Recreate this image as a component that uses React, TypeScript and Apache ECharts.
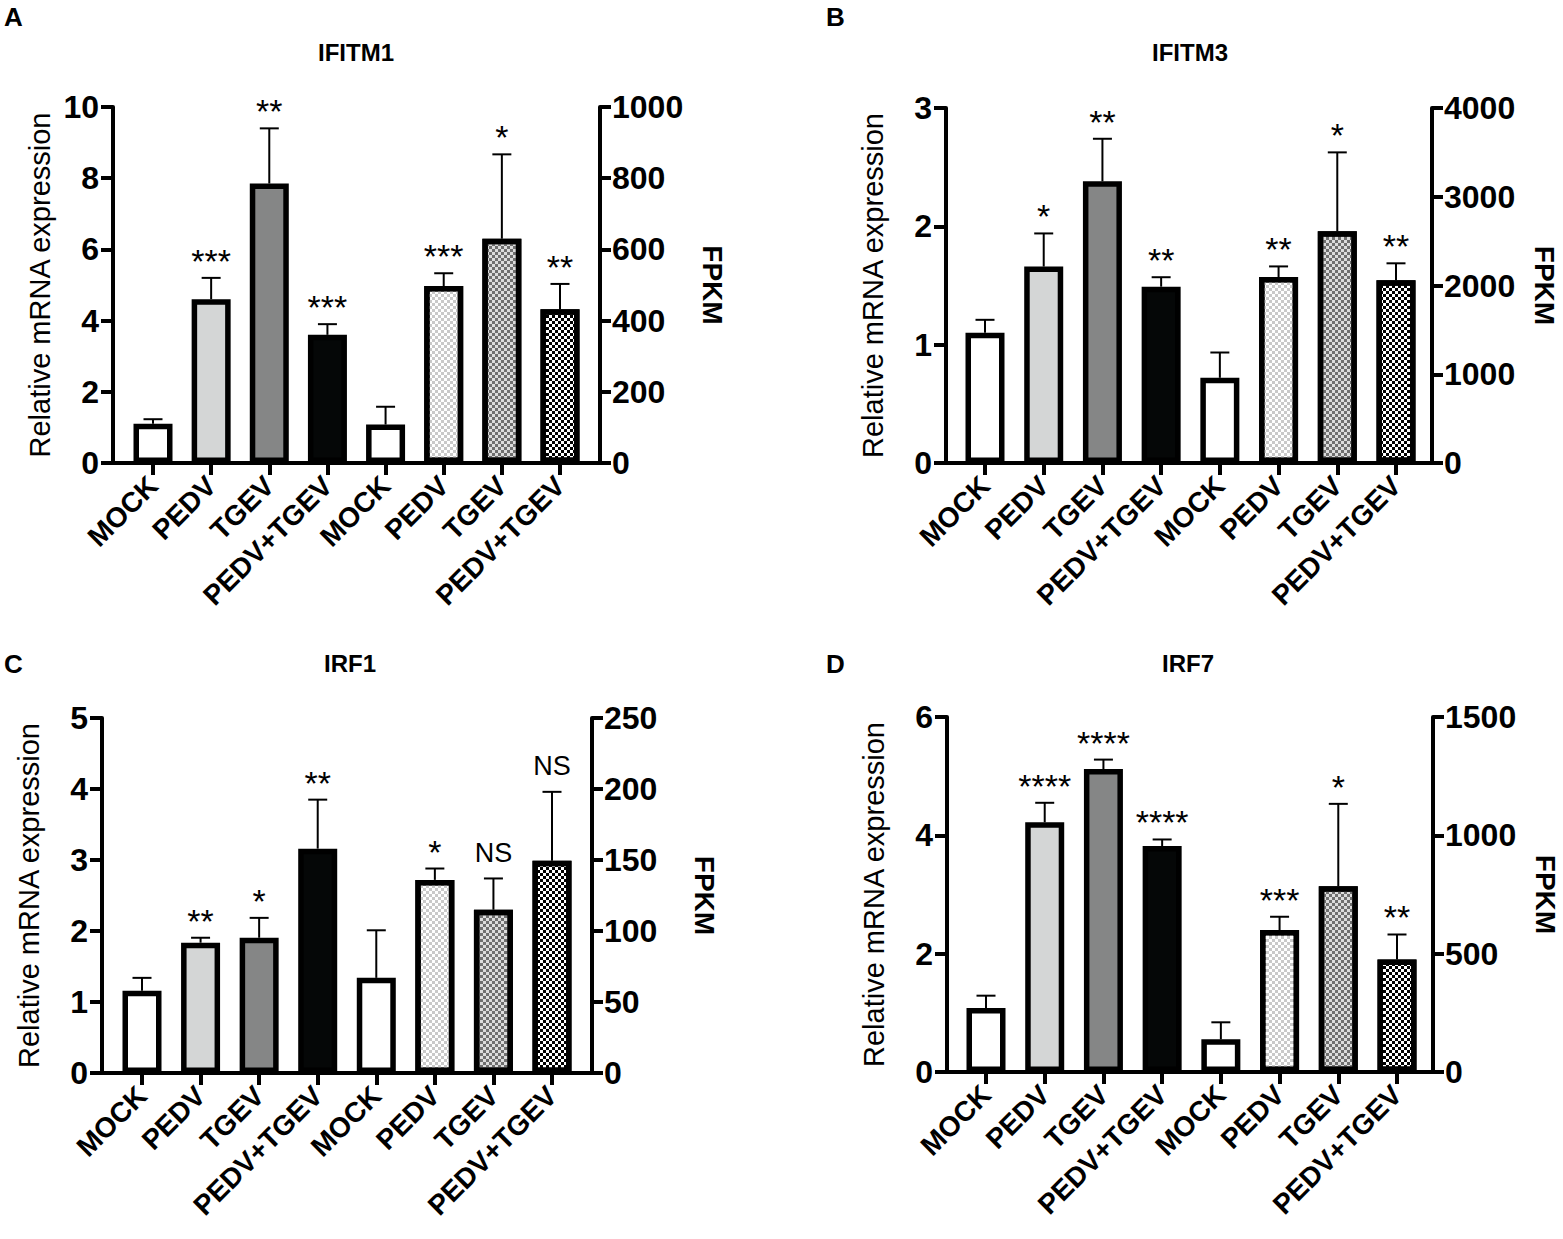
import React, { useEffect, useRef } from 'react';
import * as echarts from 'echarts';

// ---------------- data ----------------
const categories = ['MOCK', 'PEDV', 'TGEV', 'PEDV+TGEV', 'MOCK', 'PEDV', 'TGEV', 'PEDV+TGEV'];

// Panel A – IFITM1
const ifitm1Rel = [1.1, 4.6, 7.85, 3.6];
const ifitm1RelSd = [0.13, 0.6, 1.55, 0.3];
const ifitm1Fpkm = [108, 497, 630, 432];
const ifitm1FpkmSd = [50, 36, 237, 71];
const ifitm1Sig = ['', '***', '**', '***', '', '***', '*', '**'];
const ifitm1RelTicks = { max: 10, interval: 2 };
const ifitm1FpkmTicks = { max: 1000, interval: 200 };

// Panel B – IFITM3
const ifitm3Rel = [1.1, 1.66, 2.38, 1.49];
const ifitm3RelSd = [0.11, 0.28, 0.36, 0.08];
const ifitm3Fpkm = [960, 2095, 2610, 2060];
const ifitm3FpkmSd = [285, 120, 890, 190];
const ifitm3Sig = ['', '*', '**', '**', '', '**', '*', '**'];
const ifitm3RelTicks = { max: 3, interval: 1 };
const ifitm3FpkmTicks = { max: 4000, interval: 1000 };

// Panel C – IRF1
const irf1Rel = [1.16, 1.835, 1.905, 3.16];
const irf1RelSd = [0.18, 0.07, 0.28, 0.69];
const irf1Fpkm = [67, 136, 115, 149.5];
const irf1FpkmSd = [33.5, 8, 22, 48.5];
const irf1Sig = ['', '**', '*', '**', '', '*', 'NS', 'NS'];
const irf1RelTicks = { max: 5, interval: 1 };
const irf1FpkmTicks = { max: 250, interval: 50 };

// Panel D – IRF7
const irf7Rel = [1.08, 4.22, 5.12, 3.82];
const irf7RelSd = [0.21, 0.33, 0.16, 0.11];
const irf7Fpkm = [138, 600, 785, 475];
const irf7FpkmSd = [72, 56, 348, 106];
const irf7Sig = ['', '****', '****', '****', '', '***', '*', '**'];
const irf7RelTicks = { max: 6, interval: 2 };
const irf7FpkmTicks = { max: 1500, interval: 500 };

// ---------------- styles / layout ----------------
const FONT = '"Liberation Sans", Arial, Helvetica, sans-serif';
const solidFills = ['#ffffff', '#d4d6d6', '#858686', '#050707'];
const patternFills = [
  { base: '#ffffff', dot: '#c9c9c9' },
  { base: '#ffffff', dot: '#c9c9c9' },
  { base: '#dcdcdc', dot: '#6f6f6f' },
  { base: '#ffffff', dot: '#000000' },
];

const panels = [
  {
    letter: 'A', title: 'IFITM1',
    rel: ifitm1Rel, relSd: ifitm1RelSd, fpkm: ifitm1Fpkm, fpkmSd: ifitm1FpkmSd, sig: ifitm1Sig,
    relTicks: ifitm1RelTicks, fpkmTicks: ifitm1FpkmTicks,
    frame: { left: 113, right: 600, top: 107, bottom: 463 }, firstC: 153, lastC: 560,
    titleXY: [356, 52], letterXY: [4, 17],
  },
  {
    letter: 'B', title: 'IFITM3',
    rel: ifitm3Rel, relSd: ifitm3RelSd, fpkm: ifitm3Fpkm, fpkmSd: ifitm3FpkmSd, sig: ifitm3Sig,
    relTicks: ifitm3RelTicks, fpkmTicks: ifitm3FpkmTicks,
    frame: { left: 946, right: 1432, top: 108, bottom: 463 }, firstC: 985, lastC: 1396,
    titleXY: [1190, 52], letterXY: [826, 17],
  },
  {
    letter: 'C', title: 'IRF1',
    rel: irf1Rel, relSd: irf1RelSd, fpkm: irf1Fpkm, fpkmSd: irf1FpkmSd, sig: irf1Sig,
    relTicks: irf1RelTicks, fpkmTicks: irf1FpkmTicks,
    frame: { left: 102, right: 592, top: 718, bottom: 1073 }, firstC: 142, lastC: 552,
    titleXY: [350, 663], letterXY: [4, 664],
  },
  {
    letter: 'D', title: 'IRF7',
    rel: irf7Rel, relSd: irf7RelSd, fpkm: irf7Fpkm, fpkmSd: irf7FpkmSd, sig: irf7Sig,
    relTicks: irf7RelTicks, fpkmTicks: irf7FpkmTicks,
    frame: { left: 947, right: 1433, top: 717, bottom: 1072 }, firstC: 986, lastC: 1397,
    titleXY: [1188, 663], letterXY: [826, 664],
  },
];

function checker(dot: string) {
  return {
    symbol: 'rect',
    symbolSize: 1,
    dashArrayX: [[3, 3], [0, 3, 3, 0]],
    dashArrayY: [3, 0],
    rotation: 0,
    color: dot,
  };
}

const plainNumber = (v: number) => String(v);

function buildOption() {
  const grid: any[] = [];
  const xAxis: any[] = [];
  const yAxis: any[] = [];
  const series: any[] = [];
  const graphic: any[] = [];

  panels.forEach((p, i) => {
    const f = p.frame;
    const s = (p.lastC - p.firstC) / 7;
    const h = f.bottom - f.top;
    grid.push({ left: f.left, top: f.top, width: f.right - f.left, height: h, containLabel: false });
    grid.push({ left: p.firstC - s / 2, top: f.top, width: s * 8, height: h, containLabel: false });

    const gFrame = 2 * i;
    const gPlot = 2 * i + 1;

    xAxis.push({
      type: 'value', gridIndex: gFrame, min: 0, max: 1,
      axisLine: { show: true, onZero: false, lineStyle: { color: '#000', width: 4 } },
      axisTick: { show: false }, axisLabel: { show: false }, splitLine: { show: false },
    });
    xAxis.push({
      type: 'category', gridIndex: gPlot, data: categories,
      axisLine: { show: false },
      axisTick: { show: true, alignWithLabel: true, interval: 0, length: 12, lineStyle: { color: '#000', width: 4 } },
      axisLabel: {
        interval: 0, rotate: 45, margin: 18, color: '#000',
        fontSize: 28, fontWeight: 'bold', fontFamily: FONT,
      },
      splitLine: { show: false },
    });

    const yLeftBase = {
      type: 'value', min: 0, max: p.relTicks.max, interval: p.relTicks.interval,
    };
    const yRightBase = {
      type: 'value', min: 0, max: p.fpkmTicks.max, interval: p.fpkmTicks.interval,
    };
    // frame axes (visible)
    yAxis.push({
      ...yLeftBase, gridIndex: gFrame, position: 'left',
      axisLine: { show: true, lineStyle: { color: '#000', width: 4 } },
      axisTick: { show: true, length: 12, lineStyle: { color: '#000', width: 4 } },
      axisLabel: { margin: 14, color: '#000', fontSize: 32, fontWeight: 'bold', fontFamily: FONT, formatter: plainNumber },
      splitLine: { show: false },
      name: 'Relative mRNA expression', nameLocation: 'middle', nameGap: 59, nameRotate: 90,
      nameTextStyle: { color: '#000', fontSize: 29, fontWeight: 'normal', fontFamily: FONT },
    });
    yAxis.push({
      ...yRightBase, gridIndex: gFrame, position: 'right',
      axisLine: { show: true, lineStyle: { color: '#000', width: 4 } },
      axisTick: { show: true, length: 11, lineStyle: { color: '#000', width: 4 } },
      axisLabel: { margin: 12, color: '#000', fontSize: 32, fontWeight: 'bold', fontFamily: FONT, formatter: plainNumber },
      splitLine: { show: false },
      name: 'FPKM', nameLocation: 'middle', nameGap: 98, nameRotate: -90,
      nameTextStyle: { color: '#000', fontSize: 28, fontWeight: 'bold', fontFamily: FONT },
    });
    // plot axes (hidden, same scales)
    yAxis.push({ ...yLeftBase, gridIndex: gPlot, show: false, splitLine: { show: false } });
    yAxis.push({ ...yRightBase, gridIndex: gPlot, position: 'right', show: false, splitLine: { show: false } });

    const yRel = 4 * i + 2;
    const yFpkm = 4 * i + 3;

    const relData: any[] = categories.map((_, k) =>
      k < 4 ? { value: p.rel[k], itemStyle: { color: solidFills[k] } } : '-'
    );
    const fpkmData: any[] = categories.map((_, k) =>
      k >= 4
        ? {
            value: p.fpkm[k - 4],
            itemStyle: {
              color: patternFills[k - 4].base,
              decal: k === 4 ? undefined : checker(patternFills[k - 4].dot),
            },
          }
        : '-'
    );

    const barCommon = {
      type: 'bar', xAxisIndex: gPlot, barWidth: 39, barGap: '-100%',
      itemStyle: { borderColor: '#000', borderWidth: 5.5 },
      emphasis: { disabled: true }, silent: true,
    };
    series.push({ ...barCommon, name: p.title + ' relative', yAxisIndex: yRel, data: relData });
    series.push({ ...barCommon, name: p.title + ' FPKM', yAxisIndex: yFpkm, data: fpkmData });

    const makeErr = (means: number[], sds: number[], offset: number, yIdx: number) => ({
      type: 'custom', xAxisIndex: gPlot, yAxisIndex: yIdx, clip: false, silent: true, z: 5,
      data: means.map((m, k) => [k + offset, m, sds[k]]),
      encode: { x: 0, y: 1 },
      renderItem: (params: any, api: any) => {
        const cat = api.value(0);
        const m = api.value(1);
        const sd = api.value(2);
        const base = api.coord([cat, m]);
        const top = api.coord([cat, m + sd]);
        const label = p.sig[params.dataIndex + offset];
        const isText = label === 'NS';
        return {
          type: 'group',
          children: [
            { type: 'line', shape: { x1: base[0], y1: base[1], x2: top[0], y2: top[1] }, style: { stroke: '#000', lineWidth: 2 } },
            { type: 'line', shape: { x1: top[0] - 9.5, y1: top[1], x2: top[0] + 9.5, y2: top[1] }, style: { stroke: '#000', lineWidth: 2 } },
            {
              type: 'text', x: top[0], y: top[1] - (isText ? 12 : 0),
              style: {
                text: label, align: 'center', verticalAlign: 'bottom',
                fontSize: isText ? 27 : 34, fontFamily: FONT, fontWeight: 'normal', fill: '#000',
              },
            },
          ],
        };
      },
    });
    series.push(makeErr(p.rel, p.relSd, 0, yRel));
    series.push(makeErr(p.fpkm, p.fpkmSd, 4, yFpkm));

    graphic.push({
      type: 'text', x: p.titleXY[0], y: p.titleXY[1], silent: true,
      style: { text: p.title, align: 'center', verticalAlign: 'middle', fontSize: 24, fontWeight: 'bold', fontFamily: FONT, fill: '#000' },
    });
    graphic.push({
      type: 'text', x: p.letterXY[0], y: p.letterXY[1], silent: true,
      style: { text: p.letter, align: 'left', verticalAlign: 'middle', fontSize: 26, fontWeight: 'bold', fontFamily: FONT, fill: '#000' },
    });
  });

  return {
    animation: false,
    backgroundColor: '#ffffff',
    textStyle: { fontFamily: FONT },
    grid, xAxis, yAxis, series, graphic,
  };
}

export default function App() {
  const ref = useRef<HTMLDivElement>(null);
  useEffect(() => {
    if (!ref.current) return;
    const chart = echarts.init(ref.current, undefined, { renderer: 'svg' });
    chart.setOption(buildOption() as any);
    return () => chart.dispose();
  }, []);
  return (
    <div
      ref={ref}
      style={{ position: 'absolute', left: 0, top: 0, width: 1563, height: 1239, background: '#fff' }}
    />
  );
}
